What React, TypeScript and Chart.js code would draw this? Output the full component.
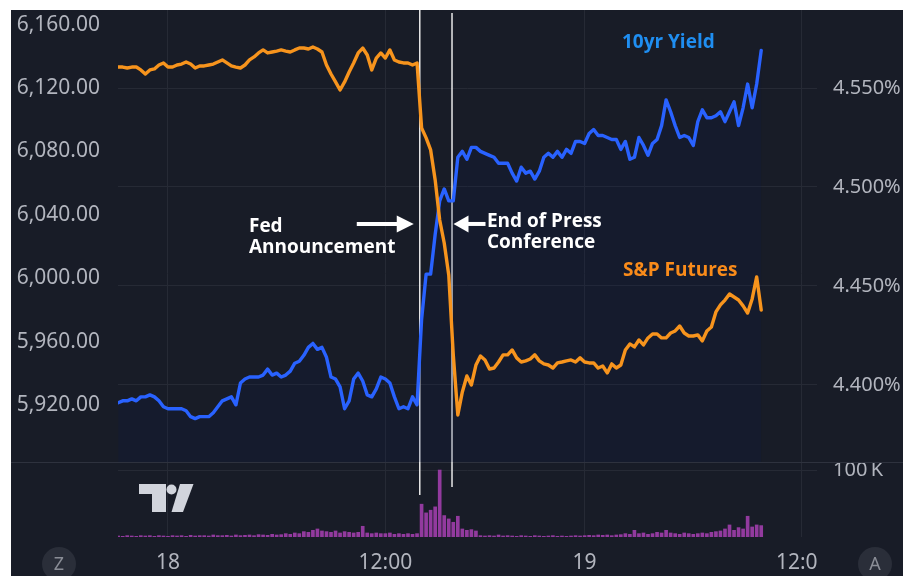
import React, { useEffect, useRef } from 'react';
import { Chart, registerables } from 'chart.js';

Chart.register(...registerables);

// Time axis in trading hours counted from 00:00 on the 18th (17:00-18:00 break skipped)
const START_HOUR = -2.75;
const STEP_HOURS = 0.25;

// S&P 500 futures (left axis)
const SP_FUTURES = [
  6133.2, 6133.2, 6132.6, 6133.2, 6133.2, 6131.4, 6128.8, 6131.4, 6132.0, 6134.5,
  6135.8, 6133.2, 6133.2, 6134.5, 6135.1, 6136.4, 6135.1, 6132.6, 6133.9, 6133.9,
  6134.5, 6135.1, 6136.4, 6137.7, 6135.8, 6133.9, 6133.2, 6132.6, 6134.5, 6137.7,
  6139.6, 6142.1, 6144.0, 6142.1, 6142.7, 6143.3, 6144.0, 6143.3, 6142.7, 6144.0,
  6145.2, 6145.2, 6144.6, 6145.9, 6144.6, 6142.7, 6134.5, 6128.8, 6123.8, 6118.7,
  6123.8, 6130.1, 6135.8, 6142.1, 6145.2, 6140.8, 6131.4, 6138.9, 6142.1, 6138.9,
  6144.0, 6137.7, 6136.4, 6135.8, 6135.8, 6134.5, 6135.8, 6094.8, 6088.5, 6080.9,
  6062.0, 6036.7, 6022.2, 6002.0, 5951.6, 5913.7, 5928.2, 5938.3, 5932.6, 5945.2,
  5950.9, 5948.4, 5942.7, 5943.3, 5947.1, 5951.6, 5951.6, 5954.7, 5949.7, 5947.1,
  5947.8, 5949.0, 5951.6, 5947.8, 5945.9, 5945.2, 5943.3, 5946.5, 5947.1, 5947.8,
  5948.4, 5947.1, 5949.7, 5947.1, 5946.5, 5946.5, 5943.3, 5944.6, 5940.2, 5945.9,
  5943.3, 5945.2, 5954.7, 5958.5, 5956.6, 5961.0, 5957.9, 5962.3, 5964.8, 5964.8,
  5962.3, 5962.3, 5965.4, 5966.7, 5969.8, 5965.4, 5963.5, 5963.5, 5964.2, 5960.4,
  5966.7, 5969.2, 5978.7, 5983.1, 5986.2, 5990.0, 5988.1, 5986.2, 5982.5, 5978.0,
  5986.9, 6000.8, 5979.9,
];

// US 10-year yield, % (right axis)
const YIELD_10Y = [
  4.391, 4.392, 4.392, 4.393, 4.392, 4.394, 4.394, 4.395, 4.394, 4.392,
  4.389, 4.388, 4.388, 4.388, 4.388, 4.387, 4.384, 4.383, 4.384, 4.384,
  4.384, 4.386, 4.389, 4.392, 4.393, 4.394, 4.390, 4.401, 4.403, 4.404,
  4.404, 4.404, 4.405, 4.408, 4.405, 4.406, 4.404, 4.405, 4.407, 4.411,
  4.412, 4.415, 4.419, 4.421, 4.418, 4.419, 4.414, 4.404, 4.403, 4.399,
  4.388, 4.392, 4.403, 4.406, 4.402, 4.395, 4.394, 4.398, 4.404, 4.403,
  4.401, 4.394, 4.388, 4.389, 4.388, 4.394, 4.390, 4.433, 4.456, 4.456,
  4.476, 4.493, 4.499, 4.493, 4.493, 4.515, 4.518, 4.514, 4.520, 4.520,
  4.518, 4.517, 4.516, 4.515, 4.512, 4.512, 4.512, 4.507, 4.503, 4.510,
  4.507, 4.508, 4.504, 4.508, 4.515, 4.517, 4.515, 4.518, 4.515, 4.519,
  4.517, 4.523, 4.523, 4.522, 4.527, 4.529, 4.526, 4.526, 4.525, 4.524,
  4.524, 4.519, 4.523, 4.514, 4.515, 4.525, 4.521, 4.516, 4.522, 4.524,
  4.531, 4.544, 4.538, 4.531, 4.525, 4.526, 4.525, 4.521, 4.533, 4.539,
  4.535, 4.535, 4.536, 4.538, 4.533, 4.538, 4.543, 4.531, 4.540, 4.552,
  4.540, 4.552, 4.569,
];

// Volume, thousands of contracts (lower pane)
const VOLUME_K = [
  1.5, 1, 2, 1.5, 1, 2, 1.5, 2, 1, 2,
  1.5, 1, 2, 1.5, 2, 1, 2.5, 1.5, 2, 2,
  1.5, 3, 2, 2, 2.5, 1.5, 3, 2, 2.5, 3,
  2, 3.5, 3, 2.5, 4, 3, 3.5, 5, 4, 6,
  5, 8, 7, 10, 12, 9, 8, 7, 9, 6,
  8, 7, 6, 7, 16, 6, 5, 6, 5, 5,
  6, 4, 5, 4, 5, 4, 5, 49, 36, 40,
  45, 100, 32, 27, 22, 31, 12, 10, 11, 9,
  2, 1.5, 2, 1.5, 3, 1.5, 2, 1.5, 1, 2,
  1.5, 1, 2, 1.5, 1, 1.5, 2, 1, 1.5, 1,
  1.5, 2, 1.5, 2, 2.5, 2, 3, 2.5, 3, 2,
  3, 3.5, 5, 4, 10, 5, 6, 4, 5, 7,
  6, 10, 6, 5, 4, 6, 5, 4, 5, 6,
  5, 7, 8, 9, 12, 18, 10, 14, 12, 31,
  15, 18, 17,
];

const X_TICKS = [0, 12, 23, 35];
const X_TICK_LABELS = ['18', '12:00', '19', '12:0\u2002'];
const SP_TICKS = [5920, 5960, 6000, 6040, 6080, 6120, 6160];
const YIELD_TICKS = [4.4, 4.45, 4.5, 4.55];
const VOLUME_TICKS = [100];
const VOLUME_TICK_LABELS = ['100\u2009K'];

// Events (hours on the time axis) and how far down into the volume pane their lines run
const EVENT_HOURS = [13.9, 15.68];
const EVENT_LINE_END_K = [62.7, 74.7];

const X_MIN = -2.76;
const X_MAX = 35.83;
const SP_MIN = 5884;
const SP_MAX = 6169.2;
const YIELD_MIN = 4.3611;
const YIELD_MAX = 4.5894;
const VOL_MAX = 112;

const BG = '#181c27';
const GRID = '#262a35';
const AXIS_TEXT = '#b2b5be';
const ORANGE = '#f7941d';
const BLUE = '#2962ff';

const TEXT_LABELS = [
  { lines: ['10yr Yield'], hour: 25.06, sp: 6145.2, color: '#1f8ef1', size: 19 },
  { lines: ['S&P Futures'], hour: 25.12, sp: 6001.4, color: '#f98b1a', size: 19 },
  { lines: ['Fed', 'Announcement'], hour: 4.47, sp: 6029.1, color: '#ffffff', size: 19 },
  { lines: ['End of Press', 'Conference'], hour: 17.61, sp: 6032.3, color: '#ffffff', size: 19 },
];
const ARROW_SP = 6034.2;

const TIMES = SP_FUTURES.map((_, i) => START_HOUR + i * STEP_HOURS);

function drawArrow(ctx: CanvasRenderingContext2D, tipX: number, y: number, dir: number, headLen: number, shaftLen: number) {
  ctx.beginPath();
  ctx.moveTo(tipX, y);
  ctx.lineTo(tipX - dir * headLen, y - 8.5);
  ctx.lineTo(tipX - dir * headLen, y + 8.5);
  ctx.closePath();
  ctx.fill();
  ctx.lineWidth = 4;
  ctx.beginPath();
  ctx.moveTo(tipX - dir * (headLen - 1), y);
  ctx.lineTo(tipX - dir * (headLen + shaftLen), y);
  ctx.stroke();
}

const decorPlugin = {
  id: 'decor',
  beforeDraw(chart: any) {
    const ctx = chart.ctx as CanvasRenderingContext2D;
    ctx.save();
    ctx.fillStyle = BG;
    ctx.fillRect(11, 10, chart.width - 11, chart.height - 10);
    ctx.restore();
  },
  beforeDatasetsDraw(chart: any) {
    const ctx = chart.ctx as CanvasRenderingContext2D;
    const { chartArea, scales } = chart;
    ctx.save();
    const sepY = Math.round(scales.yR.bottom) + 0.5;
    ctx.strokeStyle = '#2e323e';
    ctx.lineWidth = 1;
    ctx.beginPath();
    ctx.moveTo(11, sepY);
    ctx.lineTo(chart.width, sepY);
    ctx.stroke();
    ctx.strokeStyle = '#e8e8e8';
    ctx.lineWidth = 1.5;
    EVENT_HOURS.forEach((h, i) => {
      const px = scales.x.getPixelForValue(h);
      ctx.beginPath();
      ctx.moveTo(px, chartArea.top + i * 3);
      ctx.lineTo(px, scales.yV.getPixelForValue(EVENT_LINE_END_K[i]));
      ctx.stroke();
    });
    ctx.restore();
  },
  afterDraw(chart: any) {
    const ctx = chart.ctx as CanvasRenderingContext2D;
    const { chartArea, scales } = chart;
    ctx.save();
    // text annotations
    ctx.textBaseline = 'alphabetic';
    ctx.textAlign = 'left';
    TEXT_LABELS.forEach((t) => {
      ctx.font = `bold ${t.size}px "Open Sans"`;
      ctx.fillStyle = t.color;
      const px = scales.x.getPixelForValue(t.hour);
      const py = scales.yL.getPixelForValue(t.sp);
      t.lines.forEach((line, k) => ctx.fillText(line, px, py + k * 21));
    });
    // arrows
    ctx.fillStyle = '#ffffff';
    ctx.strokeStyle = '#ffffff';
    const ay = scales.yL.getPixelForValue(ARROW_SP);
    const fedX = scales.x.getPixelForValue(EVENT_HOURS[0]);
    const endX = scales.x.getPixelForValue(EVENT_HOURS[1]);
    drawArrow(ctx, fedX - 6, ay, 1, 17, 40);
    drawArrow(ctx, endX + 1.5, ay, -1, 15, 17);
    // TradingView logo
    const lx = chartArea.left + 21;
    const ly = scales.yV.top + 22;
    ctx.fillStyle = '#d1d4dc';
    ctx.fillRect(lx, ly, 27, 10);
    ctx.fillRect(lx + 13, ly, 14, 28);
    ctx.beginPath();
    ctx.arc(lx + 32.5, ly + 5.5, 5, 0, Math.PI * 2);
    ctx.fill();
    ctx.beginPath();
    ctx.moveTo(lx + 41, ly);
    ctx.lineTo(lx + 54.5, ly);
    ctx.lineTo(lx + 44, ly + 28);
    ctx.lineTo(lx + 32.5, ly + 28);
    ctx.closePath();
    ctx.fill();
    // round buttons
    const btns = [{ x: 59, t: 'Z' }, { x: chart.width - 28, t: 'A' }];
    btns.forEach((b) => {
      ctx.fillStyle = '#2a2e39';
      ctx.beginPath();
      ctx.arc(b.x, chart.height - 12, 17, 0, Math.PI * 2);
      ctx.fill();
      ctx.fillStyle = '#8a8d96';
      ctx.font = '18px "Noto Sans"';
      ctx.textAlign = 'center';
      ctx.textBaseline = 'middle';
      ctx.fillText(b.t, b.x, chart.height - 11);
    });
    ctx.restore();
  },
};

export default function App() {
  const ref = useRef<HTMLCanvasElement>(null);
  useEffect(() => {
    const canvas = ref.current;
    if (!canvas) return;
    const font = (size: number) => ({ family: '"Noto Sans"', size });
    const chart = new Chart(canvas, {
      type: 'line',
      data: {
        datasets: [
          {
            label: 'S&P Futures',
            data: TIMES.map((t, i) => ({ x: t, y: SP_FUTURES[i] })),
            yAxisID: 'yL',
            borderColor: ORANGE,
            borderWidth: 3.4,
            pointRadius: 0,
            tension: 0,
            borderJoinStyle: 'round',
            borderCapStyle: 'round',
            fill: false,
          },
          {
            label: '10yr Yield',
            data: TIMES.map((t, i) => ({ x: t, y: YIELD_10Y[i] })),
            yAxisID: 'yR',
            borderColor: BLUE,
            borderWidth: 3.4,
            pointRadius: 0,
            tension: 0,
            borderJoinStyle: 'round',
            borderCapStyle: 'round',
            fill: 'start',
            backgroundColor: 'rgba(10, 25, 80, 0.18)',
          },
          {
            type: 'bar',
            label: 'Volume',
            data: TIMES.map((t, i) => ({ x: t, y: VOLUME_K[i] })),
            yAxisID: 'yV',
            backgroundColor: 'rgba(160, 62, 172, 0.9)',
            barThickness: 3,
          } as any,
        ],
      },
      options: {
        responsive: false,
        animation: false,
        layout: { padding: { left: 11, top: 10, right: 0, bottom: 0 } },
        plugins: { legend: { display: false }, tooltip: { enabled: false } },
        scales: {
          x: {
            type: 'linear',
            position: 'bottom',
            offset: false,
            min: X_MIN,
            max: X_MAX,
            afterBuildTicks: (s: any) => { s.ticks = X_TICKS.map((v) => ({ value: v })); },
            ticks: {
              autoSkip: false,
              maxRotation: 0,
              color: AXIS_TEXT,
              font: font(21),
              padding: 13,
              callback: (v: any) => X_TICK_LABELS[X_TICKS.indexOf(v)] ?? '',
            },
            grid: { color: GRID, drawTicks: false, offset: false },
            border: { display: false },
            afterFit: (s: any) => { s.height = 39; s.paddingLeft = 0; s.paddingRight = 0; },
          },
          yL: {
            type: 'linear',
            position: 'left',
            stack: 'left',
            stackWeight: 452,
            weight: 1,
            min: SP_MIN,
            max: SP_MAX,
            afterBuildTicks: (s: any) => { s.ticks = SP_TICKS.map((v) => ({ value: v })); },
            ticks: {
              color: AXIS_TEXT,
              font: font(21),
              padding: 18,
              callback: (v: any) => Number(v).toLocaleString('en-US', { minimumFractionDigits: 2, maximumFractionDigits: 2 }),
            },
            grid: { display: false, drawTicks: false },
            border: { display: false },
            afterFit: (s: any) => { s.width = 107; s.paddingTop = 0; s.paddingBottom = 0; },
          },
          yLv: {
            type: 'linear',
            position: 'left',
            stack: 'left',
            stackWeight: 75,
            weight: 0,
            min: 0,
            max: VOL_MAX,
            ticks: { display: false },
            grid: { display: false, drawTicks: false },
            border: { display: false },
            afterFit: (s: any) => { s.width = 107; s.paddingTop = 0; s.paddingBottom = 0; },
          },
          yR: {
            type: 'linear',
            position: 'right',
            stack: 'right',
            stackWeight: 452,
            weight: 0,
            min: YIELD_MIN,
            max: YIELD_MAX,
            afterBuildTicks: (s: any) => { s.ticks = YIELD_TICKS.map((v) => ({ value: v })); },
            ticks: {
              color: AXIS_TEXT,
              font: font(20),
              padding: 16,
              callback: (v: any) => Number(v).toFixed(3) + '%',
            },
            grid: { color: GRID, drawTicks: false },
            border: { display: false },
            afterFit: (s: any) => { s.width = 86; s.paddingTop = 0; s.paddingBottom = 0; },
          },
          yV: {
            type: 'linear',
            position: 'right',
            stack: 'right',
            stackWeight: 75,
            weight: 1,
            min: 0,
            max: VOL_MAX,
            afterBuildTicks: (s: any) => { s.ticks = VOLUME_TICKS.map((v) => ({ value: v })); },
            ticks: {
              color: AXIS_TEXT,
              font: font(20),
              padding: 16,
              callback: (v: any) => VOLUME_TICK_LABELS[VOLUME_TICKS.indexOf(v)] ?? '',
            },
            grid: { color: GRID, drawTicks: false },
            border: { display: false },
            afterFit: (s: any) => { s.width = 86; s.paddingTop = 0; s.paddingBottom = 0; },
          },
        },
      } as any,
      plugins: [decorPlugin],
    } as any);
    return () => chart.destroy();
  }, []);
  return (
    <div style={{ position: 'fixed', left: 0, top: 0, width: 903, height: 576 }}>
      <canvas ref={ref} width={903} height={576} style={{ display: 'block', width: 903, height: 576 }} />
    </div>
  );
}
